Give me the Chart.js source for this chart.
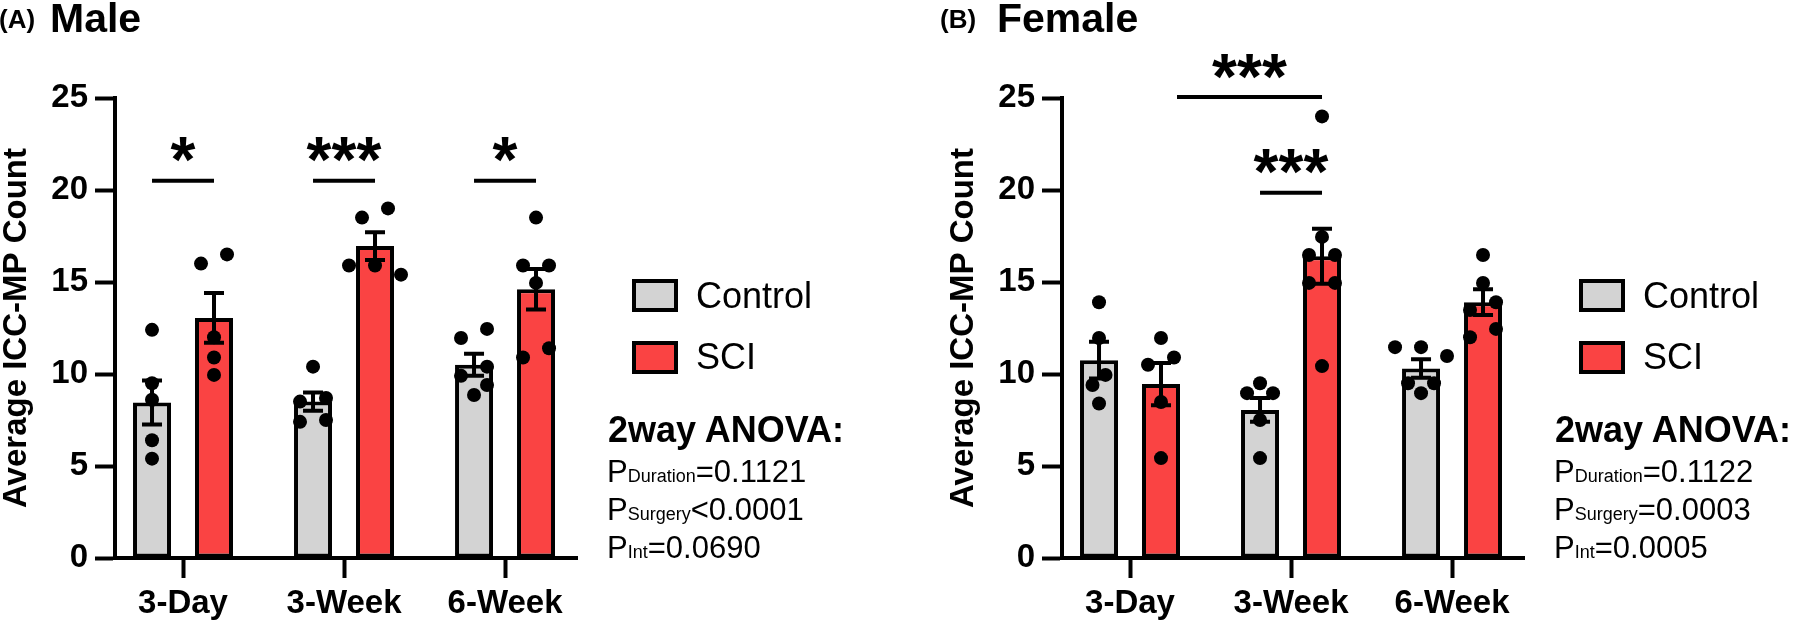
<!DOCTYPE html>
<html><head><meta charset="utf-8">
<script src="https://cdn.jsdelivr.net/npm/chart.js@4.4.1/dist/chart.umd.min.js"></script>
<style>
html,body{margin:0;padding:0;background:#fff;}
body{width:1800px;height:623px;position:relative;overflow:hidden;font-family:"Liberation Sans",Arial,sans-serif;color:#000;}
.panel{position:absolute;top:0;width:853px;height:623px;}
.panel canvas{position:absolute;left:0;top:0;}
.t{position:absolute;white-space:nowrap;line-height:1;}
.letter{font-weight:bold;font-size:26px;}
.ttl{font-weight:bold;font-size:41px;}
.box{position:absolute;box-sizing:border-box;border:4px solid #000;width:46px;height:33px;}
.leg{font-size:36px;}
.anova{font-size:36px;font-weight:bold;}
.p{font-size:31px;}
.p span{font-size:18px;line-height:1;}
</style></head>
<body>
<div class="panel" id="pA" style="left:0"><canvas id="cA" width="853" height="623"></canvas></div>
<div class="panel" id="pB" style="left:947px"><canvas id="cB" width="853" height="623"></canvas></div>
<script>
// ---------- data ----------
const categories = ['3-Day', '3-Week', '6-Week'];
const seriesNames = ['Control', 'SCI'];
const yAxisTitle = 'Average ICC-MP Count';
const panelLetters = ['(A)', '(B)'];
const panelTitles = ['Male', 'Female'];
const anovaHeading = '2way ANOVA:';

// Male
const maleControlMean = [8.45, 8.5, 10.5];
const maleControlSem  = [1.2, 0.5, 0.6];
const maleSciMean     = [13.05, 16.95, 14.6];
const maleSciSem      = [1.35, 0.75, 1.1];
const maleControlPoints = [[12.4, 9.5, 8.6, 6.4, 5.4], [10.4, 8.7, 8.5, 7.5, 7.4], [12.45, 11.96, 10.4, 9.9, 9.4, 8.86]];
const maleSciPoints     = [[16.5, 16.0, 12.0, 10.9, 9.95], [19.0, 18.5, 15.9, 15.9, 15.4], [18.5, 15.9, 15.9, 14.95, 11.4, 10.9]];
const maleSig = [
  {from: [0, 0], to: [1, 0], y: 20.5, text: '*'},
  {from: [0, 1], to: [1, 1], y: 20.5, text: '***'},
  {from: [0, 2], to: [1, 2], y: 20.5, text: '*'}
];
const maleAnova = [['Duration', '=0.1121'], ['Surgery', '<0.0001'], ['Int', '=0.0690']];

// Female
const femaleControlMean = [10.75, 8.05, 10.3];
const femaleControlSem  = [1.0, 0.65, 0.5];
const femaleSciMean     = [9.45, 16.4, 13.9];
const femaleSciSem      = [1.15, 1.5, 0.7];
const femaleControlPoints = [[13.9, 11.96, 9.95, 9.4, 8.4], [9.5, 8.96, 8.96, 7.5, 5.43], [11.46, 11.46, 10.98, 9.5, 9.5, 8.96]];
const femaleSciPoints     = [[11.96, 10.9, 10.5, 8.48, 5.43], [24.0, 17.45, 16.47, 16.47, 14.95, 14.95, 10.43], [16.47, 14.95, 13.9, 13.48, 12.45, 12.0]];
const femaleSig = [
  {from: [1, 0, 'right'], to: [1, 1], y: 25.05, text: '***'},
  {from: [0, 1], to: [1, 1], y: 19.85, text: '***'}
];
const femaleAnova = [['Duration', '=0.1122'], ['Surgery', '=0.0003'], ['Int', '=0.0005']];

const yMin = 0, yMax = 25, yStep = 5;

// ---------- style ----------
const FONT = '"Liberation Sans", Arial, sans-serif';
const barColors = ['#D3D3D3', '#FA4343'];
Chart.defaults.font.family = FONT;
Chart.defaults.color = '#000';

const annot = {
  id: 'annot',
  afterDatasetsDraw(chart) {
    const cfg = chart.options.plugins.annot;
    const ctx = chart.ctx, ys = chart.scales.y;
    ctx.save();
    ctx.strokeStyle = '#000';
    ctx.fillStyle = '#000';
    ctx.lineWidth = 4;
    // error bars (mean +/- SEM)
    cfg.bars.forEach((b, d) => {
      const meta = chart.getDatasetMeta(d);
      b.mean.forEach((m, j) => {
        const x = meta.data[j].x;
        const yt = ys.getPixelForValue(m + b.sem[j]);
        const yb = ys.getPixelForValue(m - b.sem[j]);
        ctx.beginPath();
        ctx.moveTo(x, yt); ctx.lineTo(x, yb);
        ctx.moveTo(x - 10, yt); ctx.lineTo(x + 10, yt);
        ctx.moveTo(x - 10, yb); ctx.lineTo(x + 10, yb);
        ctx.stroke();
      });
    });
    // significance lines + stars
    const anchor = (a) => {
      const el = chart.getDatasetMeta(a[0]).data[a[1]];
      return a[2] === 'right' ? el.x + el.width / 2 - 3 : el.x;
    };
    ctx.font = 'bold 64px ' + FONT;
    ctx.textAlign = 'left';
    ctx.textBaseline = 'alphabetic';
    cfg.sig.forEach(s => {
      const x1 = anchor(s.from), x2 = anchor(s.to);
      const y = ys.getPixelForValue(s.y);
      ctx.beginPath(); ctx.moveTo(x1, y); ctx.lineTo(x2, y); ctx.stroke();
      const m = ctx.measureText(s.text);
      const inkW = m.actualBoundingBoxRight + m.actualBoundingBoxLeft;
      const cx = (x1 + x2) / 2;
      const x0 = cx - inkW / 2 + m.actualBoundingBoxLeft;
      const target = y - 31;
      const y0 = target - (m.actualBoundingBoxDescent - m.actualBoundingBoxAscent) / 2;
      ctx.fillText(s.text, x0, y0);
    });
    ctx.restore();
  }
};

function placeDots(chart, groups) {
  const xs = chart.scales.x, ys = chart.scales.y;
  const yPx = ys.getPixelForValue(0) - ys.getPixelForValue(1);
  const D = 16, S = 13;
  groups.forEach((pts, gi) => {
    const meta = chart.getDatasetMeta(gi);
    const out = [];
    pts.forEach((vals, j) => {
      const cx = meta.data[j].x;
      const sorted = vals.slice().sort((a, b) => b - a);
      let cluster = [];
      const flush = () => {
        if (!cluster.length) return;
        const offs = cluster.map(p => p.o);
        const sh = (Math.min(...offs) + Math.max(...offs)) / 2;
        cluster.forEach(p => out.push({x: xs.getValueForPixel(cx + p.o - sh), y: p.v}));
        cluster = [];
      };
      sorted.forEach((v, k) => {
        if (k > 0 && (sorted[k - 1] - v) * yPx >= D) flush();
        const cands = [0, -S, S, -2 * S, 2 * S, -3 * S, 3 * S];
        let o = cands.find(c => cluster.every(p => Math.hypot(c - p.o, (p.v - v) * yPx) >= D));
        if (o === undefined) o = 0;
        cluster.push({v, o});
      });
      flush();
    });
    chart.data.datasets[2 + gi].data = out;
  });
  chart.update();
}

function makeChart(id, bars, sig) {
  const canvas = document.getElementById(id);
  const axisFont = {family: FONT, size: 33, weight: 'bold'};
  const gridCfg = {display: true, offset: false, drawOnChartArea: false, drawTicks: true, tickLength: 20, tickWidth: 4, tickColor: '#000'};
  const borderCfg = {display: true, width: 4, color: '#000'};
  const barDs = (k) => ({
    label: seriesNames[k],
    data: categories.map((c, i) => ({x: i, y: bars[k].mean[i]})),
    backgroundColor: barColors[k], borderColor: '#000', borderWidth: 4, borderSkipped: false,
    barPercentage: 0.613, categoryPercentage: 0.77, order: 1
  });
  const dotDs = () => ({type: 'scatter', data: [], pointRadius: 7, pointBackgroundColor: '#000', pointBorderWidth: 0, order: 0});
  return new Chart(canvas, {
    type: 'bar',
    data: {datasets: [barDs(0), barDs(1), dotDs(), dotDs()]},
    options: {
      responsive: false, animation: false, events: [],
      layout: {padding: {left: 0, top: 98, right: canvas.width - 577, bottom: 0}},
      scales: {
        x: {
          type: 'linear', offset: false, bounds: 'data', min: -0.4224, max: 2.447,
          afterBuildTicks: s => { s.ticks = categories.map((c, i) => ({value: i})); },
          afterFit: s => { s.height = 65; },
          grid: gridCfg, border: borderCfg,
          ticks: {autoSkip: false, maxRotation: 0, includeBounds: false, callback: v => categories[v], font: axisFont, color: '#000', padding: 6}
        },
        y: {
          min: yMin, max: yMax,
          afterFit: s => { s.width = 115; },
          grid: gridCfg, border: borderCfg,
          ticks: {stepSize: yStep, font: axisFont, color: '#000', padding: 7},
          title: {display: true, text: yAxisTitle, font: {family: FONT, size: 33, weight: 'bold', lineHeight: 1}, color: '#000', padding: 0}
        }
      },
      plugins: {legend: {display: false}, tooltip: {enabled: false}, annot: {bars, sig}}
    },
    plugins: [annot]
  });
}

function overlay(panelId, pi, anova, letterLeft) {
  const p = document.getElementById(panelId);
  const add = (cls, html, left, top, extra) => {
    const d = document.createElement('div');
    d.className = cls; d.style.left = left + 'px'; d.style.top = top + 'px';
    if (extra) Object.assign(d.style, extra);
    d.innerHTML = html; p.appendChild(d); return d;
  };
  add('t letter', panelLetters[pi], letterLeft, 6);
  add('t ttl', panelTitles[pi], 50, -1.7);
  // legend
  [[279, 277.5], [341, 338.5]].forEach(([bt, tt], k) => {
    add('box', '', 632, bt, {background: barColors[k]});
    add('t leg', seriesNames[k], 696, tt);
  });
  add('t anova', anovaHeading, 608, 411.5);
  anova.forEach((a, i) => {
    add('t p', 'P<span>' + a[0] + '</span>' + a[1].replace('<', '&lt;'), 607, 455.8 + i * 38);
  });
}

const chartA = makeChart('cA', [{mean: maleControlMean, sem: maleControlSem}, {mean: maleSciMean, sem: maleSciSem}], maleSig);
const chartB = makeChart('cB', [{mean: femaleControlMean, sem: femaleControlSem}, {mean: femaleSciMean, sem: femaleSciSem}], femaleSig);
placeDots(chartA, [maleControlPoints, maleSciPoints]);
placeDots(chartB, [femaleControlPoints, femaleSciPoints]);
overlay('pA', 0, maleAnova, -1);
overlay('pB', 1, femaleAnova, -7);
</script>
</body></html>
